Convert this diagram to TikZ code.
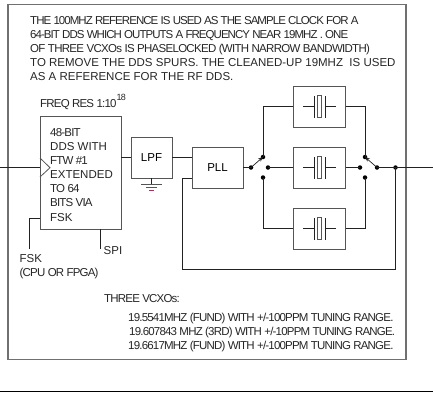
\documentclass[tikz,border=0pt]{standalone}
\usepackage{fontspec}
\setmainfont{Liberation Sans}
\newfontfamily\tightf[LetterSpace=-7]{Liberation Sans}
\newfontfamily\midf[LetterSpace=-6.2]{Liberation Sans}
\newfontfamily\tighterf[LetterSpace=-8.3]{Liberation Sans}
\usetikzlibrary{arrows.meta}
\definecolor{boxc}{HTML}{555555}
\definecolor{framec}{HTML}{707070}
\definecolor{wirec}{HTML}{222222}
\tikzset{
  x=1pt,y=-1pt,
  blockbox/.style={draw=boxc,line width=0.9pt,fill=white,inner sep=0pt,minimum width=#1},
  txt/.style={anchor=base west,inner sep=0pt,font=\fontsize{11.5}{13}\selectfont,text=black!85},
  tight/.style={anchor=base west,inner sep=0pt,font=\fontsize{11.5}{13}\tightf,text=black!85},
  tighter/.style={anchor=base west,inner sep=0pt,font=\fontsize{11.5}{13}\tighterf,text=black!85},
  mid/.style={anchor=base west,inner sep=0pt,font=\fontsize{11.5}{13}\midf,text=black!85},
  wire/.style={draw=wirec,line width=0.7pt},
  dotc/.style={circle,fill=black,inner sep=0pt,minimum size=4.5pt},
}
\newcommand{\crystal}[2]{% name, y
  \node[blockbox=51.5pt,minimum height=41pt] (#1) at (319.5,#2) {};
  \coordinate (#1c) at (319.5,#2);
  \draw[wire] ([xshift=-16.5pt]#1c) -- ([xshift=-5.5pt]#1c);
  \draw[wire] ([xshift=5.5pt]#1c) -- ([xshift=16.5pt]#1c);
  \draw[wire,line width=0.8pt] ([shift={(-5.5pt,-11pt)}]#1c) -- ([shift={(-5.5pt,11pt)}]#1c);
  \draw[wire,line width=0.8pt] ([shift={(5.5pt,-11pt)}]#1c) -- ([shift={(5.5pt,11pt)}]#1c);
  \draw[draw=boxc,line width=0.7pt] ([shift={(-2.2pt,-11pt)}]#1c) rectangle ([shift={(2pt,11pt)}]#1c);
}
\begin{document}
\begin{tikzpicture}
\useasboundingbox (0,0) rectangle (433,400);
\node[draw=framec,line width=1.2pt,minimum width=398pt,minimum height=355.5pt,inner sep=0pt] (frame) at (207,182) {};
\coordinate (rl) at (0,391); \coordinate (rr) at (433,391);
\draw[black,line width=0.8pt] (rl) -- (rr);

\node[tighter] (t1) at (30,24.5) {THE 100MHZ REFERENCE IS USED AS THE SAMPLE CLOCK FOR A};
\node[tighter] (t2) at (30,38.5) {64-BIT DDS WHICH OUTPUTS A FREQUENCY NEAR 19MHZ . ONE};
\node[mid] (t3) at (30,52.5) {OF THREE VCXOs IS PHASELOCKED (WITH NARROW BANDWIDTH)};
\node[txt] (t4) at (30,66.5) {TO REMOVE THE DDS SPURS. THE CLEANED-UP 19MHZ\ \ IS USED};
\node[txt] (t5) at (30,80.5) {AS A REFERENCE FOR THE RF DDS.};
\node[tight] (fr) at (40,107) {FREQ RES 1:10\raisebox{6.5pt}{\fontsize{9}{10}\selectfont 18}};

\node[blockbox=81pt,minimum height=113pt] (dds) at (80.5,172.5) {};
\node[tight] (d1) at (50,136) {48-BIT};
\node[txt] (d2) at (50,150) {DDS WITH};
\node[tight] (d3) at (50,164.2) {FTW \#1};
\node[txt] (d4) at (50,178.2) {EXTENDED};
\node[tight] (d5) at (50,192.2) {TO 64};
\node[tight] (d6) at (50,206.3) {BITS VIA};
\node[txt] (d7) at (50,221.2) {FSK};

\node[blockbox=41pt,minimum height=41pt,font=\fontsize{11.5}{13}\selectfont] (lpf) at (151.5,157.5) {LPF};
\node[blockbox=51pt,minimum height=41pt,font=\fontsize{11.5}{13}\selectfont] (pll) at (217.5,167.5) {PLL};

\coordinate (in) at (0,167.7);
\draw[wire] (in) -- (dds.west |- in);
\coordinate (cka) at (40,158); \coordinate (ckb) at (50,167.7); \coordinate (ckc) at (40,177);
\draw[draw=boxc,line width=0.8pt] (cka) -- (ckb) -- (ckc);
\draw[wire] (dds.east |- lpf.west) -- (lpf.west);
\draw[wire] (lpf.east) -- (pll.west |- lpf.east);

% ground
\coordinate (g0) at (lpf.south);
\coordinate (g1) at (151.5,184);
\draw[wire] (g0) -- (g1);
\draw[draw=boxc,line width=0.8pt] (141,184) -- (162,184);
\draw[draw=boxc,line width=0.8pt] (146,187.5) -- (157,187.5);
\draw[draw=purple!60!gray,line width=0.8pt] (149,190.5) -- (154,190.5);

% FSK and SPI
\coordinate (fa) at (40,218); \coordinate (fb) at (29,218); \coordinate (fc) at (29,249);
\draw[wire] (fa) -- (fb) -- (fc);
\coordinate (sa) at (100,229); \coordinate (sb) at (100,249);
\draw[wire] (sa) -- (sb);
\node[txt] (spi) at (103.5,254) {SPI};
\node[txt] (fsk) at (19.5,262) {FSK};
\node[tight] (cpu) at (19.5,276) {(CPU OR FPGA)};

% crystals
\crystal{xa}{106.5}
\crystal{xb}{167.5}
\crystal{xc}{228.5}

% switches
\node[dotc] (lp) at (251,167.5) {};
\node[dotc] (lt) at (263,157) {};
\node[dotc] (lm) at (268,167.5) {};
\node[dotc] (lb) at (263,177.5) {};
\node[dotc] (rp) at (377,167.5) {};
\node[dotc] (rt) at (365,157) {};
\node[dotc] (rm) at (360,167.5) {};
\node[dotc] (rb) at (365,177.5) {};
\node[dotc] (out) at (395.5,167.5) {};
\coordinate (end) at (433,167.5);

\draw[wire] (pll.east) -- (lp.center);
\draw[wire,-{Stealth[length=5pt,width=4pt]}] (lp.center) -- (lt.center);
\draw[wire,-{Stealth[length=5pt,width=4pt]}] (rp.center) -- (rt.center);
\draw[wire] (lm.center) -- (xb.west);
\draw[wire] (xb.east) -- (rm.center);
\draw[wire] (rp.center) -- (out.center) -- (end);
\draw[wire] (lt.center) |- (xa.west);
\draw[wire] (xa.east) -| (rt.center);
\draw[wire] (lb.center) |- (xc.west);
\draw[wire] (xc.east) -| (rb.center);

% feedback
\coordinate (fbk) at (182,269);
\draw[wire] (out.center) |- (fbk) |- (pll.west |- 0,178);

\node[tight] (v0) at (104,302.5) {THREE VCXOs:};
\node[tight] (v1) at (128,321.5) {19.5541MHZ (FUND) WITH +/-100PPM TUNING RANGE.};
\node[tight] (v2) at (129,335.5) {19.607843 MHZ (3RD) WITH +/-10PPM TUNING RANGE.};
\node[tight] (v3) at (128,349.5) {19.6617MHZ (FUND) WITH +/-100PPM TUNING RANGE.};
\end{tikzpicture}
\end{document}
